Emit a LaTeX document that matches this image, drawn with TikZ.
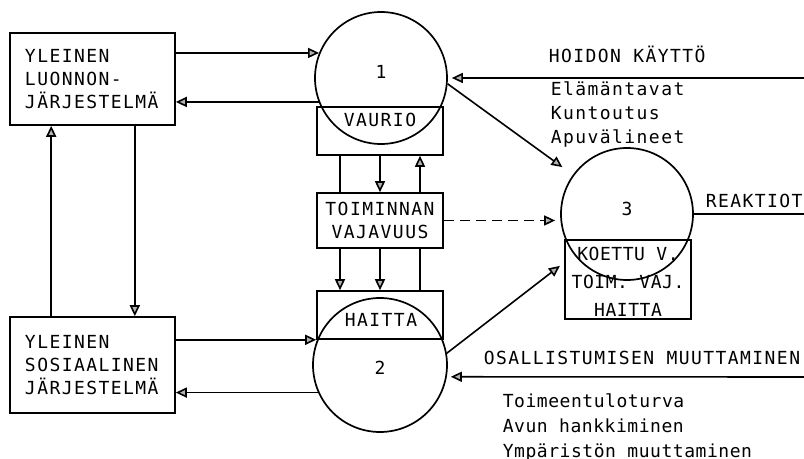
\documentclass[tikz,border=0pt]{standalone}
\usepackage{fontspec}
\usetikzlibrary{arrows.meta}
\newfontfamily\typo[LetterSpace=8]{DejaVu Sans Mono}
\newfontfamily\typon[LetterSpace=3]{DejaVu Sans Mono}
\newcommand{\labfont}{\typo\fontsize{9pt}{11.5pt}\selectfont}

\begin{document}
\begin{tikzpicture}[
  x=0.5pt, y=-0.5pt,
  line width=0.8pt,
  sysbox/.style={rectangle, draw, minimum width=82.5pt, minimum height=#1, text width=67.5pt, inner xsep=7.5pt, align=left, font=\labfont},
  proc/.style={circle, draw, line width=0.85pt, minimum size=#1, inner sep=0pt},
  segbox/.style={rectangle, draw, minimum width=63pt, minimum height=#1, inner sep=0pt, align=center, font=\labfont},
  txt/.style={inner sep=0pt, align=left, font=\labfont},
  arr/.style={-{Triangle[length=5.5pt, width=5pt, fill=gray!60]}}
]

  \useasboundingbox (0,0) rectangle (804,459);

  \node[sysbox=46pt] (lA) at (92.5,79) {YLEINEN\\LUONNON-\\JÄRJESTELMÄ};
  \node[sysbox=48pt] (lB) at (92.5,365) {YLEINEN\\SOSIAALINEN\\JÄRJESTELMÄ};

  \node[proc=66pt] (c1) at (381,78) {};
  \node[segbox=24pt] (v1) at (380,131) {};
  \node[segbox=27.5pt] (tv) at (380,220.5) {TOIMINNAN\\VAJAVUUS};
  \node[segbox=24pt] (h2) at (380,315) {};
  \node[proc=67pt] (c2) at (380,365) {};
  \node[proc=66pt] (c3) at (627,214) {};
  \node[segbox=39.5pt] (k3) at (628,279.5) {};

  \node[txt] (n1) at (381,72) {1};
  \node[txt] (n2) at (380,368) {2};
  \node[txt] (n3) at (627,209) {3};
  \node[txt] (t1) at (380,120) {VAURIO};
  \node[txt] (t2) at (381,320) {HAITTA};
  \node[txt, align=center, font=\typon\fontsize{9pt}{14pt}\selectfont] (t3) at (628,282) {KOETTU V.\\TOIM. VAJ.\\HAITTA};

  \node[txt, anchor=west] (hoito) at (548,54) {HOIDON KÄYTTÖ};
  \node[txt, anchor=west, font=\typo\fontsize{9pt}{12pt}\selectfont] (hlist) at (550,114) {Elämäntavat\\Kuntoutus\\Apuvälineet};
  \node[txt, anchor=west] (reak) at (705,201) {REAKTIOT};
  \node[txt, anchor=west] (osal) at (483,358) {OSALLISTUMISEN MUUTTAMINEN};
  \node[txt, anchor=west, font=\typon\fontsize{9pt}{12.5pt}\selectfont] (olist) at (502,427) {Toimeentuloturva\\Avun hankkiminen\\Ympäristön muuttaminen};

  \coordinate (hk) at (804,78);
  \coordinate (re) at (804,214);
  \coordinate (om) at (804,377);

  \draw[arr] (c1.158.7 -| lA.east) -- (c1.158.7);
  \draw[arr] (c1.201.3) -- (c1.201.3 -| lA.east);
  \draw[arr] (h2.south west -| lB.east) -- (h2.south west);
  \draw[arr] (c2.204.7) -- (c2.204.7 -| lB.east);

  \draw[arr] ([xshift=21pt]lB.north west) -- ([xshift=21pt]lA.south west);
  \draw[arr] ([xshift=-20.5pt]lA.south east) -- ([xshift=-20.5pt]lB.north east);

  \draw ([xshift=-20pt]v1.south) -- ([xshift=-20pt]tv.north);
  \draw[arr] ([xshift=-20pt]tv.south) -- ([xshift=-20pt]h2.north);
  \draw[arr] (v1.south) -- (tv.north);
  \draw[arr] (tv.south) -- (h2.north);
  \draw[arr] ([xshift=20pt]tv.north) -- ([xshift=20pt]v1.south);
  \draw ([xshift=20pt]h2.north) -- ([xshift=20pt]tv.south);

  \draw[arr, shorten >=2pt] (hk) -- (c1.east);
  \draw[arr, shorten >=6.5pt] (c1.-5) -- (c3);
  \draw[arr, shorten >=9pt] (c2.10) -- (c3);
  \draw[arr, dashed, dash pattern=on 5pt off 3pt, shorten >=2.5pt] (tv.east) -- (tv.east -| c3.west);
  \draw (c3.east) -- (re);
  \draw[arr, shorten >=2pt] (om) -- (c2.-10.3);

\end{tikzpicture}
\end{document}
